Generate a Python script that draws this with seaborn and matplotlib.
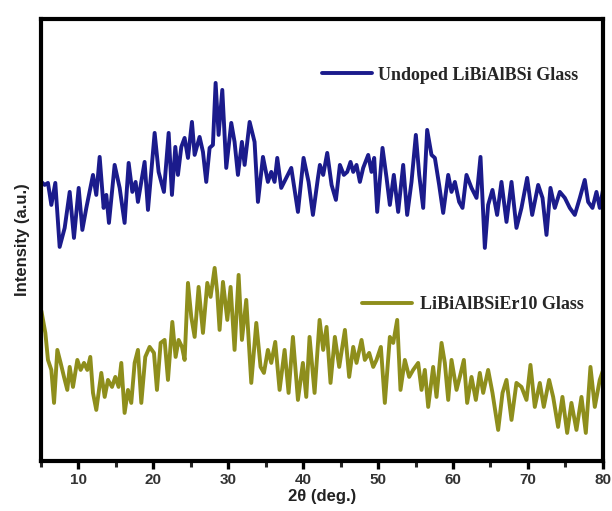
import numpy as np
import pandas as pd
import matplotlib
matplotlib.use("Agg")
import matplotlib.pyplot as plt
import seaborn as sns
from matplotlib.lines import Line2D
from matplotlib.ticker import MultipleLocator

# ---- data (2theta in deg, intensity in a.u.) ----
undoped_2theta = [5.05, 5.49, 5.93, 6.38, 6.91, 7.49, 8.16, 8.83, 9.40, 10.03, 10.52, 11.05,
    11.94, 12.38, 12.83, 13.36, 13.72, 14.07, 14.83, 15.50, 16.16, 16.70, 17.19, 17.63,
    17.94, 18.83, 19.28, 20.17, 20.70, 21.41, 22.04, 22.48, 22.93, 23.28, 23.73, 24.17,
    24.62, 25.15, 25.51, 26.17, 26.62, 27.06, 27.51, 27.95, 28.31, 28.71, 29.20, 29.73,
    30.40, 30.84, 31.29, 31.82, 32.18, 32.85, 33.51, 33.96, 34.63, 35.29, 35.74, 36.18,
    36.54, 37.07, 37.74, 38.41, 39.30, 40.05, 40.72, 41.30, 41.97,
    42.23, 42.67, 43.21, 43.79, 44.37, 44.90, 45.43, 45.88, 46.32, 46.68, 47.12, 47.57,
    48.01, 48.68, 49.12, 49.48, 49.88, 50.59, 51.13, 51.57, 52.10, 52.68, 53.35, 53.88,
    54.46, 55.04, 55.49, 56.02, 56.55, 57.13, 57.58, 58.15, 58.69, 59.36, 59.80, 60.25,
    60.82, 61.27, 61.80, 62.47, 63.14, 63.67, 64.25, 64.69, 65.27, 65.89, 66.47, 67.14,
    67.81, 68.47, 69.14, 69.90, 70.57, 71.37, 71.95, 72.48, 73.01, 73.59, 74.26, 74.93,
    75.59, 76.26, 76.93, 77.59, 78.04, 78.62, 79.15, 79.59, 80.0]
undoped_int = [279, 276, 278, 256, 278, 214, 233, 269, 223, 273, 231, 253,
    286, 266, 304, 253, 266, 238, 296, 273, 238, 298, 269, 279,
    259, 299, 251, 328, 289, 269, 328, 266, 314, 286, 314, 323,
    303, 339, 306, 324, 309, 279, 313, 316, 378, 326, 371, 293,
    338, 319, 286, 319, 296, 339, 319, 259, 304, 279, 289, 279,
    303, 273, 283, 293, 249, 303, 279, 246, 283,
    296, 286, 308, 276, 261, 296, 286, 289, 299, 289, 296, 279,
    293, 306, 289, 303, 249, 313, 283, 256, 286, 249, 296, 246,
    279, 326, 286, 253, 331, 306, 303, 276, 248, 286, 269, 279,
    259, 253, 286, 273, 263, 304, 213, 256, 271, 246, 279, 239,
    279, 233, 253, 283, 246, 276, 263, 226, 273, 253, 269, 263,
    253, 246, 263, 281, 259, 253, 269, 253, 270]

doped_2theta = [5.05, 5.58, 5.93, 6.38, 6.74, 7.18, 7.62, 8.07, 8.51, 8.83, 9.27, 9.85,
    10.29, 10.74, 11.18, 11.58, 11.94, 12.38, 13.05, 13.50, 13.94, 14.48, 14.92, 15.36,
    15.72, 16.16, 16.61, 17.05, 17.50, 17.94, 18.39, 18.92, 19.50, 20.08, 20.48, 20.97,
    21.50, 21.95, 22.53, 22.97, 23.37, 23.82, 24.17, 24.62, 25.06, 25.51, 26.04, 26.62,
    27.20, 27.64, 28.18, 28.53, 28.84, 29.29, 29.87, 30.31, 30.84, 31.38, 31.82, 32.40,
    33.07, 33.74, 34.31, 34.76, 35.29, 35.74, 36.27, 36.85, 37.52, 38.05, 38.63, 39.30,
    39.96, 40.41, 40.85, 41.52, 42.19,
    42.67, 43.12, 43.65, 44.23, 44.81, 45.57, 46.14, 46.68, 47.12, 47.79, 48.23, 48.81,
    49.35, 49.79, 50.37, 50.90, 51.57, 52.02, 52.55, 52.99, 53.57, 54.15, 54.68, 55.35,
    55.80, 56.24, 56.69, 57.35, 57.80, 58.47, 58.91, 59.36, 59.80, 60.47, 60.91, 61.45,
    61.89, 62.47, 63.05, 63.58, 64.03, 64.69, 65.27, 66.03, 66.61, 67.14, 67.81, 68.47,
    69.14, 69.81, 70.34, 70.92, 71.59, 72.12, 72.83, 73.37, 74.03, 74.61, 75.24, 75.81,
    76.48, 77.15, 77.73, 78.35, 78.93, 79.59, 80.0]
doped_int = [150, 128, 101, 91, 58, 111, 98, 84, 71, 94, 74, 101,
    91, 98, 91, 104, 68, 51, 88, 64, 81, 74, 84, 74,
    98, 48, 71, 58, 98, 111, 58, 104, 114, 108, 71, 118,
    121, 81, 139, 104, 121, 114, 101, 178, 144, 124, 174, 128,
    178, 164, 193, 168, 131, 179, 141, 174, 111, 186, 121, 161,
    78, 138, 94, 88, 111, 98, 119, 71, 111, 68, 124, 61,
    98, 64, 124, 68, 141,
    111, 134, 78, 124, 94, 131, 84, 114, 98, 121, 101, 108,
    94, 101, 114, 58, 124, 118, 141, 71, 101, 84, 91, 98,
    71, 91, 54, 94, 64, 118, 98, 61, 101, 71, 84, 101,
    58, 84, 61, 88, 68, 91, 68, 31, 68, 81, 41, 78,
    74, 61, 96, 54, 78, 54, 81, 64, 34, 64, 28, 58,
    31, 64, 28, 94, 54, 81, 90]

labels = ["Undoped LiBiAlBSi Glass", "LiBiAlBSiEr10 Glass"]
colors = ["#1b1b8c", "#8e8e1c"]
x_ticks = [10, 20, 30, 40, 50, 60, 70, 80]

df = pd.concat([
    pd.DataFrame({"2theta": undoped_2theta, "I": undoped_int, "sample": labels[0]}),
    pd.DataFrame({"2theta": doped_2theta, "I": doped_int, "sample": labels[1]}),
])

sns.set_style("ticks")
plt.rcParams["font.family"] = ["Liberation Sans", "DejaVu Sans"]

fig = plt.figure(figsize=(6.12, 5.11), dpi=100)
ax = fig.add_axes([0.067, 0.098, 0.918, 0.865])

for lab, col in zip(labels, colors):
    sub = df[df["sample"] == lab]
    sns.lineplot(data=sub, x="2theta", y="I", color=col, lw=2.8, ax=ax,
                 estimator=None, sort=False, legend=False)

ax.set_xlim(5, 80)
ax.set_ylim(0, 442)
ax.set_xticks(x_ticks)
ax.xaxis.set_minor_locator(MultipleLocator(5))
ax.set_yticks([])
ax.tick_params(axis="x", which="major", direction="out", length=6, width=2.4,
               labelsize=11, pad=3, colors="black", labelcolor="#333333")
ax.tick_params(axis="x", which="minor", direction="out", length=4, width=2.2)
for lbl in ax.get_xticklabels():
    lbl.set_fontweight("bold")
for sp in ax.spines.values():
    sp.set_linewidth(3.0)
    sp.set_color("black")

ax.set_xlabel("2θ (deg.)", fontsize=12, fontweight="bold", labelpad=1, color="#222222")
ax.set_ylabel("Intensity (a.u.)", fontsize=12, fontweight="bold", labelpad=8, color="#222222")

legfont = {"family": "Liberation Serif", "weight": "bold", "size": 13}
h1 = Line2D([], [], color=colors[0], lw=2.8)
h2 = Line2D([], [], color=colors[1], lw=2.8)
leg1 = ax.legend([h1], [labels[0]], loc="center left", bbox_to_anchor=(0.50, 0.873),
                 frameon=False, prop=legfont, handlelength=2.8, handletextpad=0.3,
                 borderpad=0, borderaxespad=0)
ax.add_artist(leg1)
ax.legend([h2], [labels[1]], loc="center left", bbox_to_anchor=(0.571, 0.353),
          frameon=False, prop=legfont, handlelength=2.8, handletextpad=0.45,
          borderpad=0, borderaxespad=0)

fig.savefig("out.png", dpi=100)
